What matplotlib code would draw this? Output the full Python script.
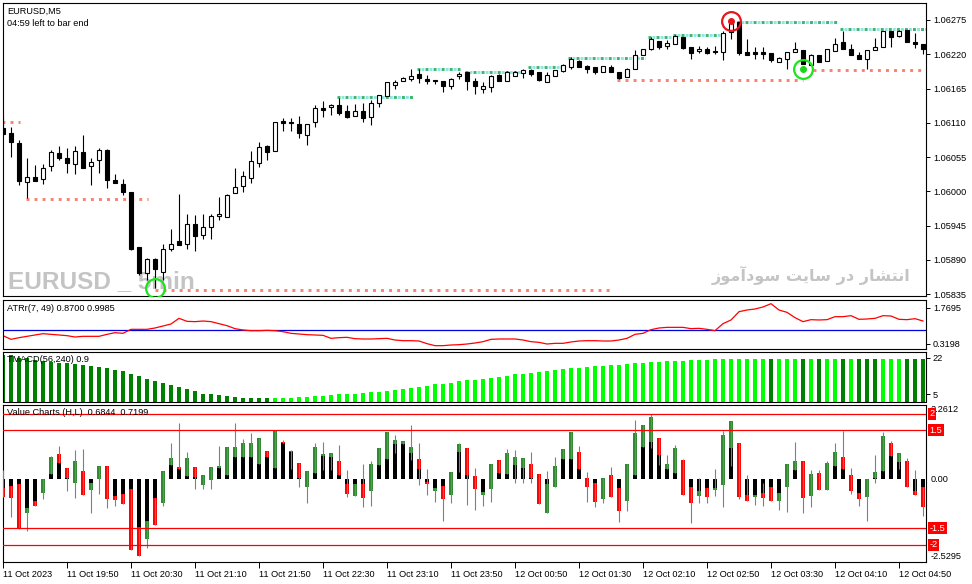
import matplotlib
matplotlib.use("Agg")
import matplotlib.pyplot as plt
import matplotlib.transforms as mtransforms
import numpy as np

plt.rcParams["font.family"] = ["Liberation Sans", "DejaVu Sans"]
plt.rcParams["font.size"] = 6.6
plt.rcParams["lines.scale_dashes"] = False

# ---------------------------------------------------------------- data
# EURUSD M5 candles, one per bar index 0..115
open_ = [1.06102, 1.06093, 1.06078, 1.06015, 1.06023, 1.06019, 1.06040, 1.06062, 1.06054, 1.06044,
         1.06063, 1.06040, 1.06050, 1.06066, 1.06018, 1.06012, 1.05998, 1.05910, 1.05868, 1.05891,
         1.05871, 1.05907, 1.05920, 1.05916, 1.05947, 1.05930, 1.05942, 1.05960, 1.05958, 1.05997,
         1.06009, 1.06022, 1.06046, 1.06073, 1.06065, 1.06113, 1.06111, 1.06108, 1.06091, 1.06111,
         1.06133, 1.06135, 1.06138, 1.06129, 1.06121, 1.06129, 1.06120, 1.06141, 1.06153, 1.06170,
         1.06177, 1.06181, 1.06188, 1.06180, 1.06179, 1.06177, 1.06169, 1.06185, 1.06191, 1.06177,
         1.06165, 1.06168, 1.06187, 1.06177, 1.06185, 1.06190, 1.06195, 1.06191, 1.06176, 1.06185,
         1.06193, 1.06200, 1.06209, 1.06201, 1.06199, 1.06192, 1.06199, 1.06191, 1.06184, 1.06197,
         1.06218, 1.06228, 1.06242, 1.06234, 1.06237, 1.06247, 1.06231, 1.06226, 1.06229, 1.06226,
         1.06224, 1.06256, 1.06271, 1.06224, 1.06224, 1.06223, 1.06222, 1.06208, 1.06212, 1.06223,
         1.06227, 1.06203, 1.06218, 1.06209, 1.06226, 1.06239, 1.06229, 1.06219, 1.06213, 1.06227,
         1.06231, 1.06258, 1.06250, 1.06259, 1.06239, 1.06237]
high_ = [1.06122, 1.06103, 1.06083, 1.06053, 1.06042, 1.06044, 1.06066, 1.06073, 1.06069, 1.06073,
         1.06090, 1.06053, 1.06069, 1.06068, 1.06028, 1.06020, 1.05998, 1.05910, 1.05893, 1.05893,
         1.05916, 1.05939, 1.05995, 1.05963, 1.05962, 1.05963, 1.05963, 1.05990, 1.05995, 1.06038,
         1.06032, 1.06065, 1.06079, 1.06075, 1.06111, 1.06118, 1.06117, 1.06121, 1.06108, 1.06138,
         1.06145, 1.06140, 1.06149, 1.06138, 1.06140, 1.06141, 1.06146, 1.06154, 1.06175, 1.06178,
         1.06184, 1.06196, 1.06196, 1.06187, 1.06179, 1.06177, 1.06182, 1.06192, 1.06191, 1.06182,
         1.06176, 1.06187, 1.06188, 1.06193, 1.06193, 1.06197, 1.06196, 1.06191, 1.06192, 1.06195,
         1.06204, 1.06215, 1.06211, 1.06202, 1.06199, 1.06201, 1.06202, 1.06191, 1.06198, 1.06227,
         1.06229, 1.06248, 1.06242, 1.06243, 1.06251, 1.06248, 1.06231, 1.06233, 1.06231, 1.06233,
         1.06257, 1.06276, 1.06272, 1.06244, 1.06232, 1.06232, 1.06222, 1.06216, 1.06224, 1.06240,
         1.06227, 1.06221, 1.06218, 1.06229, 1.06246, 1.06257, 1.06236, 1.06224, 1.06227, 1.06246,
         1.06258, 1.06258, 1.06259, 1.06259, 1.06254, 1.06237]
low_ = [1.06090, 1.06055, 1.06010, 1.05989, 1.06017, 1.06012, 1.06033, 1.06050, 1.06030, 1.06028,
        1.06038, 1.06010, 1.06030, 1.06005, 1.06013, 1.05994, 1.05906, 1.05865, 1.05857, 1.05845,
        1.05857, 1.05904, 1.05914, 1.05908, 1.05904, 1.05923, 1.05923, 1.05954, 1.05958, 1.05997,
        1.05999, 1.06014, 1.06039, 1.06050, 1.06065, 1.06096, 1.06096, 1.06085, 1.06074, 1.06103,
        1.06120, 1.06122, 1.06122, 1.06117, 1.06121, 1.06112, 1.06106, 1.06136, 1.06153, 1.06165,
        1.06177, 1.06177, 1.06174, 1.06172, 1.06173, 1.06160, 1.06164, 1.06180, 1.06162, 1.06156,
        1.06158, 1.06160, 1.06177, 1.06177, 1.06185, 1.06182, 1.06185, 1.06177, 1.06176, 1.06185,
        1.06192, 1.06197, 1.06200, 1.06190, 1.06189, 1.06191, 1.06191, 1.06180, 1.06184, 1.06197,
        1.06218, 1.06227, 1.06228, 1.06229, 1.06237, 1.06229, 1.06213, 1.06222, 1.06221, 1.06221,
        1.06210, 1.06244, 1.06219, 1.06218, 1.06212, 1.06212, 1.06208, 1.06208, 1.06197, 1.06223,
        1.06204, 1.06203, 1.06207, 1.06209, 1.06226, 1.06229, 1.06219, 1.06213, 1.06197, 1.06227,
        1.06231, 1.06232, 1.06248, 1.06240, 1.06230, 1.06221]
close_ = [1.06092, 1.06079, 1.06017, 1.06023, 1.06017, 1.06038, 1.06063, 1.06053, 1.06045, 1.06065,
          1.06038, 1.06047, 1.06067, 1.06018, 1.06013, 1.05999, 1.05908, 1.05868, 1.05892, 1.05875,
          1.05908, 1.05916, 1.05914, 1.05948, 1.05928, 1.05943, 1.05961, 1.05963, 1.05994, 1.06007,
          1.06024, 1.06049, 1.06071, 1.06063, 1.06111, 1.06109, 1.06109, 1.06093, 1.06108, 1.06133,
          1.06131, 1.06139, 1.06126, 1.06120, 1.06129, 1.06118, 1.06141, 1.06154, 1.06175, 1.06176,
          1.06182, 1.06185, 1.06182, 1.06177, 1.06177, 1.06169, 1.06180, 1.06189, 1.06177, 1.06169,
          1.06169, 1.06185, 1.06177, 1.06191, 1.06191, 1.06195, 1.06189, 1.06178, 1.06187, 1.06195,
          1.06203, 1.06212, 1.06200, 1.06197, 1.06192, 1.06201, 1.06191, 1.06182, 1.06197, 1.06218,
          1.06229, 1.06244, 1.06232, 1.06238, 1.06249, 1.06230, 1.06222, 1.06229, 1.06222, 1.06224,
          1.06254, 1.06271, 1.06222, 1.06218, 1.06221, 1.06220, 1.06210, 1.06214, 1.06223, 1.06228,
          1.06205, 1.06218, 1.06207, 1.06228, 1.06237, 1.06229, 1.06219, 1.06213, 1.06227, 1.06231,
          1.06258, 1.06248, 1.06258, 1.06240, 1.06237, 1.06228]

# support / resistance dotted segments (start bar, end bar, price)
sup_start = [-0.1, 2.9, 19.0, 76.8, 101.3]
sup_end = [2.1, 18.1, 76.1, 100.0, 115.4]
sup_price = [1.06111, 1.05987, 1.05842, 1.06179, 1.06194]
res_start = [41.7, 51.7, 57.8, 65.6, 70.6, 80.6, 83.8, 91.8, 104.6]
res_end = [51.2, 57.1, 65.3, 70.3, 80.3, 83.6, 90.0, 104.3, 115.4]
res_price = [1.06152, 1.06196, 1.06191, 1.06199, 1.06214, 1.06248, 1.06251, 1.06271, 1.06260]

# signal circles (bar, price)
red_sig_bar, red_sig_price = [91], [1.06274]
green_sig_bar, green_sig_price = [100], [1.06196]
green_ring_bar, green_ring_price = [19], [1.05844]

# ATRr(7, 49)
atr = [0.642, 0.494, 0.561, 0.615, 0.669, 0.722, 0.695, 0.669, 0.642, 0.588,
       0.615, 0.615, 0.615, 0.695, 0.763, 0.736, 0.897, 0.897, 0.897, 0.951,
       1.031, 1.112, 1.340, 1.219, 1.206, 1.232, 1.206, 1.125, 1.044, 0.924,
       0.870, 0.843, 0.843, 0.856, 0.843, 0.803, 0.736, 0.709, 0.682, 0.669,
       0.655, 0.534, 0.561, 0.575, 0.521, 0.508, 0.508, 0.521, 0.534, 0.467,
       0.440, 0.440, 0.427, 0.320, 0.239, 0.239, 0.266, 0.279, 0.306, 0.346,
       0.400, 0.494, 0.508, 0.508, 0.508, 0.467, 0.400, 0.373, 0.306, 0.333,
       0.333, 0.387, 0.427, 0.440, 0.440, 0.427, 0.427, 0.467, 0.534, 0.695,
       0.736, 0.883, 0.951, 0.977, 0.977, 0.977, 0.924, 0.937, 0.897, 0.843,
       1.125, 1.273, 1.608, 1.675, 1.716, 1.796, 1.930, 1.675, 1.581, 1.367,
       1.206, 1.286, 1.273, 1.286, 1.407, 1.407, 1.447, 1.300, 1.313, 1.340,
       1.447, 1.434, 1.300, 1.286, 1.326, 1.232]
atr_level = 0.87

# TMACD(56,240) histogram
macd = [23.4, 23.4, 22.2, 21.8, 21.1, 20.7, 20.3, 19.8, 19.5, 19.0,
        18.7, 18.2, 17.9, 17.3, 16.2, 15.7, 14.4, 13.5, 12.1, 11.1,
        10.2, 9.3, 8.3, 7.2, 6.3, 5.2, 4.8, 4.4, 3.9, 3.6,
        3.1, 3.1, 3.1, 3.1, 3.1, 3.1, 3.1, 3.6, 3.7, 3.9,
        4.2, 4.5, 4.8, 5.0, 5.2, 5.5, 5.8, 6.0, 6.3, 6.9,
        7.4, 7.7, 8.3, 9.0, 9.6, 9.7, 10.2, 11.1, 11.5, 11.6,
        12.1, 12.6, 13.2, 13.7, 14.3, 14.6, 14.9, 15.4, 15.9, 16.3,
        16.8, 17.3, 17.3, 17.8, 18.2, 18.2, 18.5, 18.7, 19.2, 19.6,
        19.6, 20.1, 20.3, 20.4, 20.6, 20.6, 20.9, 20.9, 21.1, 21.4,
        21.5, 21.5, 21.5, 21.5, 21.5, 21.5, 21.5, 21.5, 21.5, 21.5,
        21.5, 21.5, 21.5, 21.5, 21.5, 21.5, 21.5, 21.5, 21.5, 21.5,
        21.5, 21.5, 21.5, 21.5, 21.5, 21.5]
macd_dark = list(range(0, 34)) + [96, 100, 102, 105, 107, 108, 109, 113, 114, 115]

# Value Charts (H,L)
vc_open = [-0.28, -0.20, -0.14, -1.02, -0.66, -0.41, 0.16, 0.78, 0.34, -0.10,
           0.26, -0.33, 0.00, 0.41, -0.51, -0.45, -0.30, -1.45, -1.82, -0.56,
           -0.71, 0.44, 0.38, 0.10, 0.39, -0.17, -0.02, 0.35, 0.13, 0.67,
           0.67, 0.67, 0.47, 0.87, 0.34, 1.15, 0.88, 0.51, -0.22, 0.20,
           0.71, 0.67, 0.56, -0.14, -0.50, -0.14, -0.35, 0.44, 0.62, 1.08,
           1.08, 0.80, 0.62, -0.07, -0.35, -0.19, -0.48, 0.85, 0.95, 0.10,
           -0.48, -0.30, 0.59, 0.16, 0.44, 0.34, 0.47, 0.16, -1.02, -0.22,
           0.62, 0.62, 0.85, 0.05, -0.10, -0.60, 0.13, -0.28, -0.65, 0.13,
           1.00, 1.15, 1.26, 0.32, 0.20, 0.59, -0.22, -0.50, -0.27, -0.33,
           -0.17, 0.97, 1.12, -0.49, -0.54, -0.42, -0.22, -0.66, -0.22, 0.29,
           0.56, -0.51, 0.20, -0.33, 0.41, 0.67, 0.13, -0.43, -0.53, 0.03,
           0.26, 1.10, 0.52, 0.56, -0.35, -0.24]
vc_close = [-0.53, -0.56, -1.53, -0.89, -0.82, 0.01, 0.69, 0.51, 0.03, 0.56,
            -0.48, -0.10, 0.41, -0.60, -0.63, -0.76, -2.16, -2.34, -1.27, -1.40,
            0.26, 0.66, 0.31, 0.66, 0.08, 0.13, 0.39, 0.41, 1.00, 1.00,
            1.10, 1.10, 1.26, 0.69, 1.51, 1.10, 0.85, 0.03, 0.26, 1.00,
            0.78, 0.82, 0.13, -0.45, -0.14, -0.56, 0.47, 0.95, 1.44, 1.20,
            1.17, 0.98, 0.32, -0.15, -0.26, -0.60, 0.23, 1.08, 0.13, -0.30,
            -0.40, 0.47, 0.18, 0.82, 0.69, 0.65, 0.03, -0.76, -0.14, 0.41,
            0.93, 1.44, 0.32, -0.24, -0.68, 0.05, -0.53, -0.96, 0.47, 1.43,
            1.66, 1.92, 0.74, 0.47, 0.95, -0.48, -0.73, -0.35, -0.53, -0.27,
            1.36, 1.77, -0.53, -0.66, -0.48, -0.56, -0.67, -0.42, 0.46, 0.56,
            -0.56, 0.16, -0.33, 0.51, 0.85, 0.32, -0.35, -0.60, 0.00, 0.23,
            1.34, 0.72, 0.82, -0.22, -0.48, -0.84]
vc_high = [0.29, -0.20, -0.14, -0.89, -0.66, 0.01, 0.71, 1.02, 0.34, 0.90,
           0.92, -0.10, 0.41, 0.41, -0.51, -0.45, -0.30, -1.45, -1.27, -0.56,
           0.26, 1.10, 1.73, 0.85, 0.39, 0.13, 0.39, 1.02, 1.00, 1.73,
           1.22, 1.41, 1.26, 0.87, 1.51, 1.20, 0.90, 0.51, 0.26, 1.12,
           1.15, 0.82, 1.05, 0.29, -0.14, 0.46, 0.56, 0.95, 1.44, 1.36,
           1.17, 1.66, 1.10, 0.31, -0.26, -0.19, 0.23, 1.12, 0.95, 0.34,
           -0.40, 0.47, 0.59, 0.92, 0.90, 0.65, 0.85, 0.16, 0.26, 0.69,
           0.93, 1.44, 1.02, 0.21, -0.10, 0.05, 0.39, -0.28, 0.47, 1.82,
           1.66, 2.00, 1.26, 0.74, 1.05, 0.61, -0.22, 0.03, -0.27, 0.31,
           1.49, 1.77, 1.12, 0.13, -0.48, -0.10, -0.22, -0.42, 0.46, 1.15,
           0.56, 0.29, 0.29, 0.57, 1.12, 1.49, 0.34, -0.43, 0.00, 0.74,
           1.46, 1.18, 0.82, 0.64, 0.27, -0.24]
vc_low = [-0.53, -1.14, -1.53, -1.57, -0.82, -0.61, 0.16, 0.51, -0.35, -0.56,
          -0.48, -1.02, -0.45, -0.87, -0.82, -0.76, -2.16, -2.34, -2.09, -1.40,
          -0.82, 0.44, 0.31, 0.10, -0.31, -0.30, -0.30, 0.35, 0.13, 0.67,
          0.67, 0.67, 0.47, 0.69, 0.34, 1.10, 0.33, -0.25, -0.73, 0.20,
          0.28, 0.28, 0.13, -0.53, -0.50, -0.84, -0.82, 0.44, 0.62, 0.80,
          1.08, 0.59, -0.17, -0.48, -0.68, -1.27, -0.73, 0.23, -0.79, -0.94,
          -0.82, -0.68, 0.18, 0.16, -0.10, -0.10, -0.10, -0.76, -1.02, -0.22,
          0.62, 0.62, 0.32, -0.68, -0.84, -0.73, -0.53, -1.30, -0.96, 0.13,
          1.00, 0.95, 0.44, 0.32, 0.20, -0.48, -1.33, -0.71, -0.71, -0.50,
          -0.86, 0.41, -0.61, -0.66, -0.79, -0.82, -0.67, -0.94, -1.01, 0.29,
          -1.04, -0.86, -0.33, -0.33, 0.41, 0.32, -0.46, -0.82, -1.28, -0.10,
          0.26, 0.72, 0.31, -0.22, -0.48, -1.12]
vc_levels = [2.0, 1.5, -1.5, -2.0]

x_tick_bars = list(range(0, 116, 8))
x_tick_labels = ["11 Oct 2023", "11 Oct 19:50", "11 Oct 20:30", "11 Oct 21:10", "11 Oct 21:50",
                 "11 Oct 22:30", "11 Oct 23:10", "11 Oct 23:50", "12 Oct 00:50", "12 Oct 01:30",
                 "12 Oct 02:10", "12 Oct 02:50", "12 Oct 03:30", "12 Oct 04:10", "12 Oct 04:50"]
price_ticks = [1.06275, 1.06220, 1.06165, 1.06110, 1.06055, 1.06000, 1.05945, 1.05890, 1.05835]

# ---------------------------------------------------------------- layout
W, H = 972, 584
fig = plt.figure(figsize=(W / 100, H / 100), dpi=100)
fig.patch.set_facecolor("white")
X_LEFT, X_RIGHT = 2.5, 926.0


def panel(top, bottom):
    ax = fig.add_axes([X_LEFT / W, 1 - bottom / H, (X_RIGHT - X_LEFT) / W, (bottom - top) / H])
    ax.set_xlim(-0.0625, 115.375)
    for sp in ax.spines.values():
        sp.set_linewidth(0.8)
        sp.set_color("black")
    ax.tick_params(axis="x", bottom=False, labelbottom=False)
    ax.yaxis.tick_right()
    ax.tick_params(axis="y", length=3, width=0.7, pad=2, labelsize=6.6)
    return ax


def ftext(x, y, s, **kw):
    fig.text(x / W, 1 - y / H, s, va="center", ha="left", **kw)


ax_main = panel(2.5, 296)
ax_atr = panel(299.5, 349)
ax_macd = panel(352, 401.5)
ax_vc = panel(405.4, 562)

bars = np.arange(len(open_))

# ---------------------------------------------------------------- main price panel
ax_main.set_ylim(1.058318, 1.063031)
ax_main.set_yticks(price_ticks)
ax_main.set_yticklabels([f"{p:.5f}" for p in price_ticks])

for s, e, p in zip(sup_start, sup_end, sup_price):
    ax_main.plot([s, e], [p, p], color="#fa8072", lw=2.1, dashes=(2.1, 3.7), zorder=1)
for s, e, p in zip(res_start, res_end, res_price):
    ax_main.plot([s, e], [p, p], color="#8ee6de", lw=2.1, linestyle=(2.9, (2.1, 3.7)), zorder=1)
    ax_main.plot([s, e], [p, p], color="#3cb371", lw=2.1, dashes=(2.1, 3.7), zorder=1)

o = np.array(open_)
c = np.array(close_)
ax_main.vlines(bars, low_, high_, color="black", lw=0.8, zorder=2)
body_lo = np.minimum(o, c)
body_h = np.abs(c - o)
faces = ["white" if cc > oo else "black" for oo, cc in zip(o, c)]
ax_main.bar(bars, body_h, bottom=body_lo, width=0.6, color=faces, edgecolor="black",
            linewidth=0.8, zorder=3)

ax_main.plot(red_sig_bar, red_sig_price, "o", ms=13.5, mfc="none", mec="#e8141e", mew=1.6, zorder=5)
ax_main.plot(red_sig_bar, red_sig_price, "o", ms=4, mfc="#e8141e", mec="#e8141e", zorder=5)
ax_main.plot(green_sig_bar, green_sig_price, "o", ms=13.5, mfc="none", mec="#19e619", mew=1.6, zorder=5)
ax_main.plot(green_sig_bar, green_sig_price, "o", ms=4, mfc="#19d619", mec="#19d619", zorder=5)
ax_main.plot(green_ring_bar, green_ring_price, "o", ms=13.5, mfc="none", mec="#19e619", mew=1.6,
             zorder=5)

ftext(7, 11, "EURUSD,M5", zorder=10)
ftext(7, 23, "04:59 left to bar end", zorder=10)
fig.text(8 / W, 1 - 288.5 / H, "EURUSD _ 5min", va="baseline", ha="left",
         family=["Liberation Sans", "DejaVu Sans"], weight="bold", fontsize=17.6,
         color="#c4c4c4", zorder=0.5)
persian = ("\uFEAF\uFEEE\uFEE3\uFE81\uFEA9\uFEEE\uFEB3 \uFE96\uFEF3\uFE8E\uFEB3 "
           "\uFEAD\uFEA9 \uFEAD\uFE8E\uFEB8\uFE98\uFEE7\uFE8D")
fig.text(811 / W, 1 - 275 / H, persian, va="center", ha="center", family=["DejaVu Sans"],
         weight="bold", fontsize=11.6, color="#c4c4c4", zorder=0.5)
ax_main.set_zorder(1)
ax_main.patch.set_alpha(0)

# ---------------------------------------------------------------- ATR panel
ax_atr.set_ylim(0.105, 2.098)
ax_atr.set_yticks([1.7695, 0.3198])
ax_atr.set_yticklabels(["1.7695", "0.3198"])
ax_atr.axhline(atr_level, color="#0000dd", lw=0.9, zorder=1)
ax_atr.plot(bars, atr, color="#ff0000", lw=0.9, zorder=2)
ftext(7, 308.5, "ATRr(7, 49) 0.8700 0.9985", zorder=10)

# ---------------------------------------------------------------- TMACD panel
ax_macd.set_ylim(1.46, 24.83)
ax_macd.set_yticks([22, 5])
ax_macd.set_yticklabels(["22", "5"])
macd_cols = ["#008000" if i in macd_dark else "#00ff00" for i in bars]
ax_macd.bar(bars, macd, width=0.38, color=macd_cols, zorder=2)
ax_macd.text(0.0045, 0.84, "TMACD(56,240) 0.9", transform=ax_macd.transAxes, va="center",
             ha="left", zorder=10)

# ---------------------------------------------------------------- Value Charts panel
ax_vc.set_ylim(-2.5295, 2.2612)
ax_vc.set_yticks([])
ax_vc.tick_params(axis="y", right=False, labelright=False)
for lv in vc_levels:
    ax_vc.axhline(lv, color="#ff0000", lw=0.9, zorder=4)

vo = np.array(vc_open)
vcl = np.array(vc_close)
same_side = vo * vcl > 0
near = np.where(np.abs(vo) < np.abs(vcl), vo, vcl)
black_h = np.where(same_side, near, 0.0)
ax_vc.bar(bars, black_h, width=0.62, color="black", zorder=2)
vc_cols = ["#2e8b2e" if cc >= oo else "#ff0000" for oo, cc in zip(vo, vcl)]
ax_vc.bar(bars, vcl - vo, bottom=vo, width=0.62, color=vc_cols, zorder=2)
ax_vc.vlines(bars, vc_low, vc_high, color="#808080", lw=0.8, zorder=3)
ax_vc.text(0.0045, 0.955, "Value Charts (H,L)  0.6844  0.7199", transform=ax_vc.transAxes,
           va="center", ha="left", zorder=10)

# right-hand scale of the value chart: extremes, zero and the red level tags
trans = mtransforms.blended_transform_factory(ax_vc.transAxes, ax_vc.transData)
xr = 1 + 4.5 / (X_RIGHT - X_LEFT)
ax_vc.text(xr, (479.3 - 409.5) / 32.67, "2.2612", transform=trans, va="center", ha="left",
           clip_on=False)
ax_vc.text(xr, 0.0, "0.00", transform=trans, va="center", ha="left", clip_on=False)
ax_vc.text(xr, (479.3 - 556) / 32.67, "-2.5295", transform=trans, va="center", ha="left",
           clip_on=False)
xb = 1 + 3.6 / (X_RIGHT - X_LEFT)
for lv in vc_levels:
    ax_vc.text(xb, lv, f"{lv:g}", transform=trans, va="center", ha="left", color="white",
               clip_on=False, zorder=12,
               bbox=dict(facecolor="#ff0000", edgecolor="none", pad=1.0))

ax_vc.set_xticks(x_tick_bars)
ax_vc.set_xticklabels(x_tick_labels)
ax_vc.tick_params(axis="x", bottom=True, labelbottom=True, length=4, width=0.7, pad=1.5,
                  labelsize=6.6)
for lab in ax_vc.get_xticklabels():
    lab.set_horizontalalignment("left")

fig.savefig("out.png", dpi=100)
